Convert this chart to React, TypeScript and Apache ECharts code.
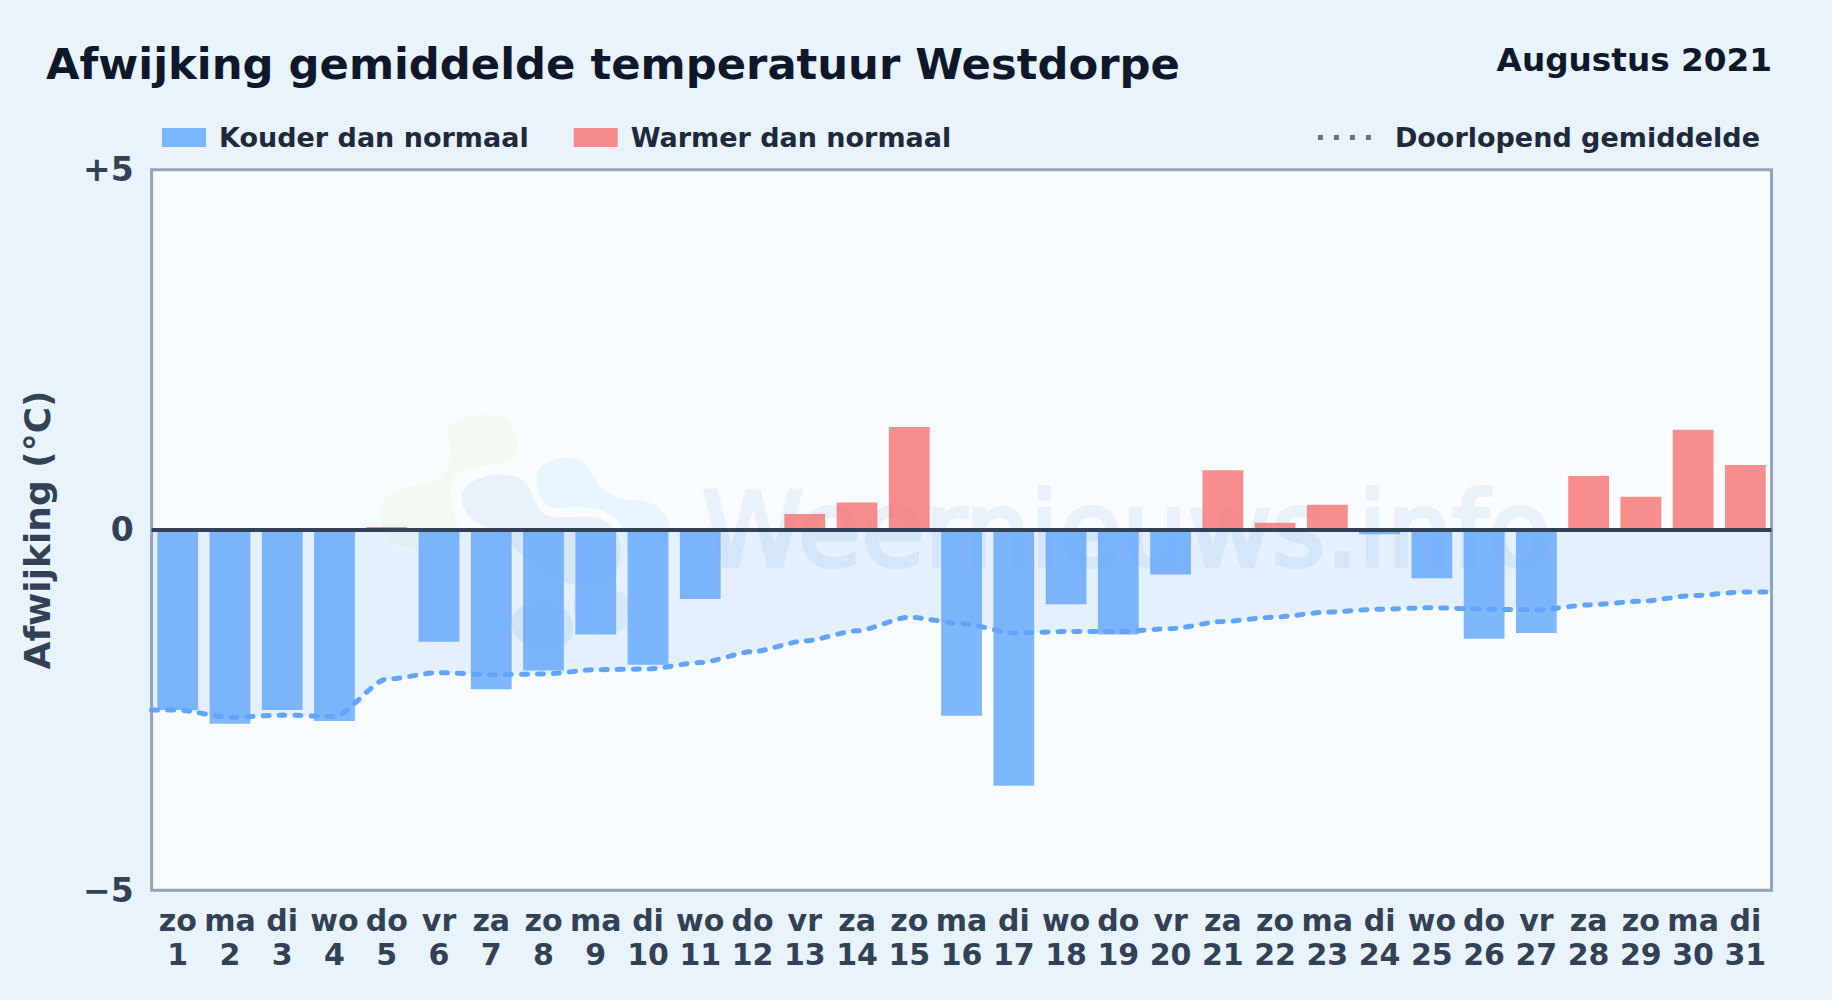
import React, { useEffect, useRef } from "react";
import * as echarts from "echarts";

const weekdagen = ["zo","ma","di","wo","do","vr","za","zo","ma","di","wo","do","vr","za","zo","ma","di","wo","do","vr","za","zo","ma","di","wo","do","vr","za","zo","ma","di"];
const dagen = [1,2,3,4,5,6,7,8,9,10,11,12,13,14,15,16,17,18,19,20,21,22,23,24,25,26,27,28,29,30,31];
const afwijking = [-2.5,-2.69,-2.5,-2.65,0.04,-1.55,-2.21,-1.95,-1.45,-1.87,-0.96,-0.03,0.22,0.38,1.43,-2.58,-3.55,-1.03,-1.45,-0.62,0.83,0.1,0.35,-0.06,-0.67,-1.51,-1.43,0.75,0.46,1.39,0.9];
const doorlopend = [-2.5,-2.6,-2.57,-2.59,-2.07,-1.98,-2.01,-2.0,-1.94,-1.93,-1.84,-1.69,-1.54,-1.4,-1.21,-1.3,-1.43,-1.41,-1.41,-1.37,-1.27,-1.21,-1.14,-1.1,-1.08,-1.1,-1.11,-1.04,-0.99,-0.91,-0.86];
const yTicks: Record<string, string> = { "5": "+5", "0": "0", "-5": "\u22125" };

const FONT = "'DejaVu Sans'";
const KOUD = "Kouder dan normaal";
const WARM = "Warmer dan normaal";
const LIJN = "Doorlopend gemiddelde";

const blobs = [
  { name: "wnGreen", fill: "#f4faf1", d: "M260 120C290 70 400 60 440 90C480 120 485 190 455 215C400 230 320 220 275 270C265 340 285 400 320 440C260 480 130 490 90 450C50 410 50 340 90 310C130 285 220 285 250 250C280 220 270 170 260 120Z" },
  { name: "wnGrey", fill: "#e8f0f9", d: "M305 320C310 270 400 240 470 260C520 280 510 320 540 360C570 400 650 370 720 385C790 410 800 500 760 560C710 600 640 590 600 570C520 540 470 470 400 420C340 400 305 370 305 320Z" },
  { name: "wnBlue", fill: "#e8f5fe", d: "M530 260C530 210 640 180 685 230C710 290 740 320 800 330C880 320 930 370 930 420C930 470 880 480 800 480C800 440 790 410 770 385C730 355 680 345 600 355C550 360 530 310 530 260Z" },
  { name: "wnLow", fill: "#e3edf8", d: "M455 700C455 650 520 620 590 640C650 670 655 740 610 770C560 800 455 770 455 700Z" },
  { name: "wnLowBlue", fill: "#e8f4fd", d: "M640 640C650 610 730 580 790 610C830 660 820 710 760 730C700 735 640 700 640 640Z" },
];
blobs.forEach((b) => {
  echarts.graphic.registerShape(b.name, echarts.graphic.extendPath(b.d, {}));
});

export default function App() {
  const ref = useRef<HTMLDivElement>(null);
  useEffect(() => {
    document.body.style.margin = "0";
    const chart = echarts.init(ref.current!, undefined, { renderer: "svg" });
    chart.setOption({
      animation: false,
      backgroundColor: "#e9f3fc",
      textStyle: { fontFamily: FONT },
      title: [
        { text: "Afwijking gemiddelde temperatuur Westdorpe", left: 46, top: 42, padding: 0,
          textStyle: { fontFamily: FONT, fontSize: 43.3, fontWeight: "bold", color: "#0f172a" } },
        { text: "Augustus 2021", right: 60, top: 43, padding: 0,
          textStyle: { fontFamily: FONT, fontSize: 32.7, fontWeight: "bold", color: "#0f172a" } },
      ],
      legend: [
        { left: 162, top: 124, padding: 0, itemWidth: 44, itemHeight: 19, itemGap: 45, selectedMode: false,
          data: [{ name: KOUD, icon: "rect" }, { name: WARM, icon: "rect" }],
          textStyle: { fontFamily: FONT, fontSize: 27, fontWeight: "bold", color: "#1e293b", padding: [0, 0, 0, 8] } },
        { right: 72, top: 124, padding: 0, itemWidth: 56, itemHeight: 19, selectedMode: false,
          data: [{ name: LIJN, lineStyle: { color: "#64748b", width: 5, type: [5, 11], cap: "butt" }, itemStyle: { opacity: 0 } }],
          textStyle: { fontFamily: FONT, fontSize: 27, fontWeight: "bold", color: "#1e293b", padding: [0, 0, 0, 16] } },
      ],
      grid: { left: 151.6, top: 169.7, width: 1619.9, height: 720.5, show: true,
        backgroundColor: "#f8fcff", borderColor: "#94a3b8", borderWidth: 3 },
      xAxis: [
        { type: "category", data: dagen.map((d, i) => `${weekdagen[i]}\n${d}`),
          axisLine: { show: false }, axisTick: { show: false }, splitLine: { show: false },
          axisLabel: { interval: 0, margin: 14, fontFamily: FONT, fontSize: 30, fontWeight: "bold", color: "#334155", lineHeight: 33.5 } },
        { type: "value", min: 0.5, max: 31.5, show: false, splitLine: { show: false } },
      ],
      yAxis: {
        type: "value", min: -5, max: 5, interval: 5,
        name: "Afwijking (\u00b0C)", nameLocation: "middle", nameRotate: 90, nameGap: 96.6,
        nameTextStyle: { fontFamily: FONT, fontSize: 36, fontWeight: "bold", color: "#334155" },
        axisLine: { show: false }, axisTick: { show: false }, splitLine: { show: false },
        axisLabel: { margin: 18, fontFamily: FONT, fontSize: 33, fontWeight: "bold", color: "#334155",
          formatter: (v: number) => yTicks[String(v)] ?? String(v) },
      },
      graphic: [
        ...blobs.map((b) => ({ type: b.name, x: 360, y: 390, scaleX: 1 / 3, scaleY: 1 / 3, z: 1, silent: true, style: { fill: b.fill } })),
        { type: "text", x: 702, y: 581, z: 1, silent: true,
          style: { text: "Weernieuws.info", fontFamily: FONT, fontSize: 103, verticalAlign: "bottom",
            fill: "#e8f1fa", stroke: "#e8f1fa", lineWidth: 4 } },
      ],
      series: [
        { name: "vlak", type: "line", xAxisIndex: 1, z: 1, symbol: "none", smooth: 0.25, smoothMonotone: "x",
          lineStyle: { width: 0 }, itemStyle: { opacity: 0 },
          areaStyle: { color: "rgba(96,165,250,0.19)" }, silent: true,
          data: [[0.5, doorlopend[0]], ...doorlopend.map((v, i) => [dagen[i], v]), [31.5, doorlopend[30]]] },
        { name: KOUD, type: "bar", barWidth: 40.8, barGap: "-100%", z: 2,
          itemStyle: { color: "rgba(96,165,250,0.8)" },
          data: afwijking.map((v) => (v < 0 ? v : null)),
          markLine: { silent: true, symbol: "none", z: 6, label: { show: false },
            lineStyle: { color: "#334155", width: 4, type: "solid" }, data: [{ yAxis: 0 }] } },
        { name: WARM, type: "bar", barWidth: 40.8, barGap: "-100%", z: 2,
          itemStyle: { color: "rgba(248,113,113,0.8)" },
          data: afwijking.map((v) => (v > 0 ? v : null)) },
        { name: LIJN, type: "line", xAxisIndex: 1, z: 4, symbol: "none", smooth: 0.25, smoothMonotone: "x",
          lineStyle: { color: "#60a5fa", width: 5, type: [6, 10], cap: "round" },
          data: [[0.5, doorlopend[0]], ...doorlopend.map((v, i) => [dagen[i], v]), [31.5, doorlopend[30]]] },
      ],
    });
    return () => chart.dispose();
  }, []);
  return <div ref={ref} style={{ width: 1832, height: 1000 }} />;
}
